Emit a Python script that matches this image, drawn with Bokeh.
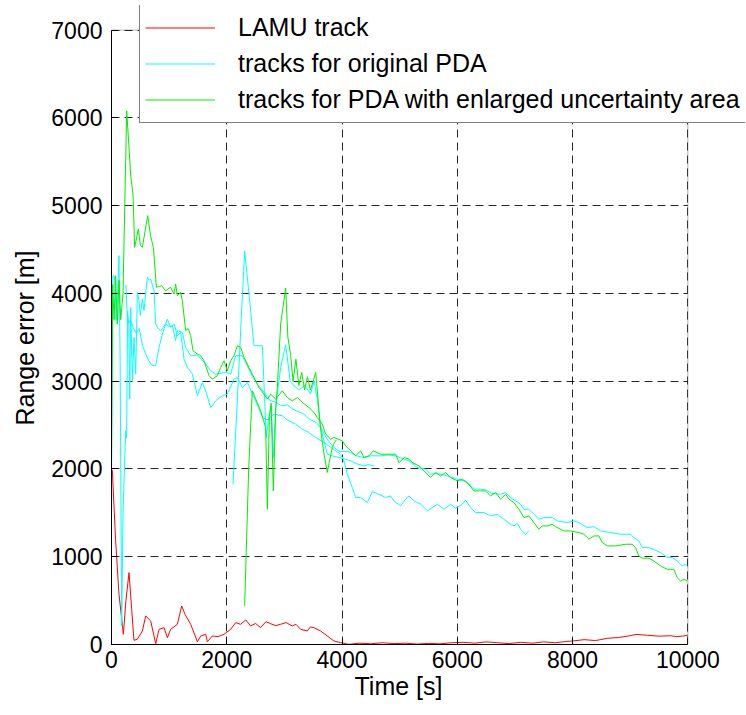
from bokeh.plotting import figure
from bokeh.models import Legend, LegendItem, FixedTicker, Range1d, BoxAnnotation, Title
from bokeh.embed import file_html
from bokeh.resources import INLINE

# ---------------- data (time [s], range error [m]) ----------------
lamu_track = [(0, 2000), (15, 1978), (70, 1200), (130, 572), (206, 116), (250, 500), (304, 819),
              (350, 400), (390, 48), (449, 60), (536, 154), (593, 325), (680, 268), (767, 9),
              (825, 173), (911, 192), (970, 78), (1026, 173), (1143, 230), (1218, 439), (1276, 344),
              (1374, 230), (1490, 32), (1548, 97), (1635, 116), (1663, 32), (1750, 97), (1850, 90),
              (1951, 116), (2067, 173), (2154, 249), (2240, 230), (2330, 280), (2414, 211),
              (2500, 240), (2587, 192), (2680, 260), (2760, 237), (2850, 215), (2934, 230),
              (3030, 250), (3136, 211), (3200, 230), (3281, 173), (3396, 154), (3450, 200),
              (3512, 192), (3627, 154), (3744, 97), (3860, 40), (3975, 21), (4120, 2), (4300, 15),
              (4500, 8), (4700, 20), (4900, 10), (5100, 15), (5300, 5), (5500, 12), (5700, 8),
              (5900, 20), (6100, 25), (6300, 15), (6500, 30), (6700, 20), (6900, 10), (7100, 25),
              (7300, 15), (7500, 30), (7700, 20), (7900, 35), (8000, 40), (8200, 55), (8400, 45),
              (8600, 70), (8800, 80), (9000, 100), (9100, 115), (9300, 105), (9500, 95),
              (9700, 100), (9800, 90), (9900, 95), (10000, 105)]

pda_track_1 = [(0, 2000), (25, 4200), (43, 4202), (60, 4150), (80, 3700), (100, 3900), (130, 4430),
               (150, 3200), (177, 211), (200, 1500), (246, 2434), (262, 2350), (280, 3800),
               (300, 3650), (316, 2796), (333, 3841), (362, 3005), (391, 3499), (420, 3081),
               (449, 4011), (477, 3917), (500, 3750), (536, 3936), (564, 3803), (622, 4182),
               (651, 4150), (680, 4163), (738, 4030), (767, 3651), (796, 3612), (853, 3575),
               (940, 3651), (1000, 3620), (1056, 3632), (1113, 3461), (1143, 3575), (1229, 3555),
               (1287, 3384), (1374, 3290), (1403, 3290), (1490, 3300), (1560, 3250), (1634, 3195),
               (1720, 3120), (1808, 3081), (1900, 3090), (1981, 3100), (2068, 3081), (2154, 3290),
               (2270, 3290), (2357, 3176), (2450, 3050), (2550, 2950), (2650, 2870), (2750, 2780),
               (2850, 2760), (2950, 2720), (3050, 2730), (3150, 2680), (3250, 2650), (3350, 2620),
               (3450, 2560), (3550, 2530), (3650, 2450), (3750, 2330), (3850, 2250), (3950, 2200),
               (4092, 2200), (4149, 2187), (4250, 2150), (4380, 2130), (4500, 2150), (4669, 2149),
               (4800, 2160), (4930, 2149), (5040, 2120), (5161, 2092), (5306, 2016), (5450, 1997),
               (5537, 1940), (5650, 1950), (5770, 1930), (5884, 1910), (6000, 1883), (6115, 1864),
               (6200, 1830), (6288, 1769), (6400, 1770), (6500, 1760), (6600, 1720), (6751, 1712),
               (6838, 1731), (6924, 1674), (7011, 1636), (7098, 1598), (7155, 1541), (7242, 1541),
               (7329, 1484), (7416, 1427), (7502, 1446), (7647, 1446), (7734, 1408), (7907, 1389),
               (8023, 1408), (8110, 1389), (8255, 1332), (8370, 1342), (8486, 1294), (8659, 1275),
               (8833, 1256), (9006, 1256), (9064, 1218), (9150, 1180), (9208, 1104), (9324, 1104),
               (9420, 1080), (9526, 1047), (9642, 990), (9728, 990), (9815, 952), (9902, 895),
               (9960, 914), (10000, 890)]

pda_track_2 = [(250, 4100), (280, 3650), (330, 3700), (380, 3600), (430, 3550), (480, 3600),
               (540, 3400), (600, 3300), (650, 3230), (700, 3180), (767, 3176), (825, 3384),
               (882, 3537), (969, 3708), (1026, 3612), (1090, 3650), (1143, 3518), (1200, 3555),
               (1260, 3250), (1316, 3157), (1403, 3081), (1490, 2834), (1577, 2985), (1634, 2890),
               (1721, 2700), (1808, 2776), (1923, 2834), (2010, 2852), (2125, 3024), (2183, 3043),
               (2270, 2928), (2357, 2985), (2450, 2850), (2550, 2700), (2617, 2586), (2700, 2560),
               (2819, 2625), (2964, 2605), (3050, 2560), (3195, 2510), (3311, 2453), (3426, 2415),
               (3542, 2358), (3686, 2301), (3800, 2250), (3889, 2206), (3950, 2180), (4020, 2120),
               (4092, 1940), (4178, 1788), (4236, 1674), (4323, 1674), (4438, 1617), (4525, 1742),
               (4640, 1712), (4756, 1674), (4843, 1693), (4900, 1636), (5016, 1579), (5103, 1655),
               (5161, 1693), (5248, 1636), (5364, 1598), (5480, 1522), (5566, 1560), (5653, 1598),
               (5769, 1541), (5884, 1598), (5971, 1553), (6086, 1598), (6144, 1644), (6231, 1560),
               (6317, 1503), (6462, 1503), (6577, 1465), (6693, 1484), (6809, 1427), (6924, 1370),
               (6982, 1351), (7040, 1380), (7098, 1313), (7185, 1256), (7242, 1294)]

pda_track_3 = [(2108, 1827), (2183, 2776), (2250, 3700), (2311, 4479), (2400, 3900), (2472, 3404),
               (2617, 3404), (2686, 2358), (2730, 2600), (2773, 2720), (2808, 2130), (2850, 2700),
               (2935, 3157), (3022, 3415), (3100, 3000), (3166, 2948), (3250, 2900), (3350, 2950),
               (3455, 2853), (3513, 3004), (3570, 2800), (3629, 2472), (3745, 2168), (3830, 2150),
               (3950, 2130), (4060, 2110), (4149, 2092), (4250, 2060), (4380, 2035), (4450, 2050),
               (4553, 2035)]

enlarged_track_1 = [(0, 2000), (20, 4100), (45, 3700), (70, 4200), (100, 3650), (130, 4150),
                    (160, 3700), (200, 4000), (230, 5000), (264, 6080), (300, 5700), (333, 5340),
                    (373, 5130), (402, 4525), (440, 4650), (466, 4734), (500, 4550), (536, 4525),
                    (580, 4700), (628, 4886), (680, 4650), (727, 4525), (779, 4070), (830, 4080),
                    (871, 4087), (940, 4030), (1000, 4060), (1026, 4068), (1084, 3993), (1113, 4106),
                    (1142, 3974), (1200, 4011), (1229, 3917), (1287, 3575), (1330, 3600),
                    (1374, 3518), (1414, 3347), (1489, 3309), (1547, 3290), (1605, 3233),
                    (1692, 3062), (1750, 3024), (1836, 3062), (1894, 3157), (1952, 3233),
                    (2010, 3119), (2068, 3233), (2125, 3290), (2184, 3404), (2242, 3385),
                    (2299, 3271), (2385, 3157), (2472, 3042), (2559, 2928), (2645, 2852),
                    (2704, 2796), (2761, 2852), (2848, 2796), (2963, 2890), (3051, 2814),
                    (3137, 2776), (3224, 2814), (3310, 2757), (3426, 2700), (3513, 2643),
                    (3571, 2586), (3658, 2510), (3715, 2397), (3802, 2340), (3860, 2359),
                    (4005, 2320), (4063, 2263), (4149, 2206), (4236, 2149), (4323, 2206),
                    (4380, 2130), (4467, 2149), (4543, 2206), (4669, 2168), (4814, 2168),
                    (4930, 2168), (4988, 2073), (5086, 2130), (5161, 2111), (5219, 2073),
                    (5334, 2035), (5421, 1978), (5537, 1902), (5623, 1959), (5710, 1921),
                    (5797, 1959), (5884, 1902), (6000, 1864), (6086, 1883), (6172, 1845),
                    (6288, 1750), (6404, 1750), (6490, 1750), (6577, 1693), (6664, 1731),
                    (6751, 1656), (6838, 1712), (6896, 1656), (6982, 1617), (7069, 1541),
                    (7155, 1446), (7242, 1465), (7329, 1389), (7416, 1313), (7474, 1351),
                    (7560, 1351), (7647, 1370), (7705, 1342), (7849, 1294), (7965, 1294),
                    (8110, 1275), (8197, 1256), (8283, 1200), (8370, 1237), (8457, 1237),
                    (8515, 1161), (8602, 1123), (8746, 1123), (8920, 1142), (9035, 1142),
                    (9093, 1104), (9150, 1009), (9208, 983), (9324, 983), (9410, 952), (9526, 895),
                    (9642, 857), (9757, 857), (9815, 762), (9873, 724), (9931, 743), (9989, 724)]

enlarged_track_2 = [(2310, 440), (2380, 2000), (2443, 2890), (2500, 2800), (2588, 2662),
                    (2675, 2472), (2704, 1541), (2740, 2600), (2770, 2750), (2808, 1750),
                    (2850, 2700), (2877, 2928), (2935, 3651), (3022, 4060), (3060, 3500),
                    (3108, 3300), (3150, 3000), (3200, 3250), (3250, 2950), (3300, 3100),
                    (3350, 2900), (3400, 3050), (3450, 2900), (3500, 3000), (3542, 3099),
                    (3570, 2900), (3620, 2500), (3680, 2200), (3744, 1960), (3800, 2150),
                    (3831, 2244), (3870, 2300), (3900, 2330)]

x_ticks = [0, 2000, 4000, 6000, 8000, 10000]
y_ticks = [0, 1000, 2000, 3000, 4000, 5000, 6000, 7000]
x_limits = (0, 10000)
y_limits = (0, 7000)
x_label = "Time [s]"
y_label = "Range error [m]"
legend_labels = ["LAMU track", "tracks for original PDA",
                 "tracks for PDA with enlarged uncertainty area"]

RED = "#ff0000"
CYAN = "#00ffff"
GREEN = "#00ee00"
FONT = "Liberation Sans"

# The frame is extended to the right and top so that the legend (which in the
# reference sticks out of the axes box) is not clipped; the extra area is masked.
p = figure(width=746, height=715, x_range=Range1d(0, 11000), y_range=Range1d(0, 7280),
           output_backend="svg", toolbar_location=None,
           min_border_left=111, min_border_right=1, min_border_top=5, min_border_bottom=71)

p.background_fill_color = "white"
p.border_fill_color = "white"
p.outline_line_color = None

def xy(track):
    return [a for a, b in track], [b for a, b in track]

r_red = p.line(*xy(lamu_track), line_color=RED, line_width=1)
r_c1 = p.line(*xy(pda_track_1), line_color=CYAN, line_width=1)
p.line(*xy(pda_track_2), line_color=CYAN, line_width=1)
p.line(*xy(pda_track_3), line_color=CYAN, line_width=1)
r_g1 = p.line(*xy(enlarged_track_1), line_color=GREEN, line_width=1)
p.line(*xy(enlarged_track_2), line_color=GREEN, line_width=1)

p.xaxis.ticker = FixedTicker(ticks=x_ticks)
p.yaxis.ticker = FixedTicker(ticks=y_ticks)
p.xaxis.bounds = x_limits
p.yaxis.bounds = y_limits
for ax in (p.xaxis, p.yaxis):
    ax.major_label_text_font = FONT
    ax.major_label_text_font_size = "23px"
    ax.major_label_text_color = "black"
    ax.major_tick_in = 6
    ax.major_tick_out = 0
    ax.minor_tick_in = 0
    ax.minor_tick_out = 0
    ax.axis_line_color = "black"
    ax.major_tick_line_color = "black"
p.xaxis.major_label_standoff = 6
p.yaxis.major_label_standoff = 9

# axis titles placed relative to the true axes box (0..10000 x 0..7000)
p.add_layout(Title(text=x_label, align="left", offset=243, vertical_align="middle",
                   standoff=0, text_font=FONT, text_font_size="25px",
                   text_font_style="normal", text_color="black"), "below")
p.add_layout(Title(text=y_label, align="left", offset=219, vertical_align="middle",
                   standoff=18, text_font=FONT, text_font_size="25px",
                   text_font_style="normal", text_color="black"), "left")

for g in (p.xgrid, p.ygrid):
    g.grid_line_color = "black"
    g.grid_line_alpha = 0.85
    g.grid_line_dash = "8 5"
    g.grid_line_width = 1

# mask the area outside the axes box, then draw the axes box
p.add_layout(BoxAnnotation(left=x_limits[1], fill_color="white", fill_alpha=1.0,
                           line_color=None))
p.add_layout(BoxAnnotation(bottom=y_limits[1], fill_color="white", fill_alpha=1.0,
                           line_color=None))
p.add_layout(BoxAnnotation(left=x_limits[0], right=x_limits[1], bottom=y_limits[0],
                           top=y_limits[1], fill_alpha=0.0, line_color="black",
                           line_width=1))

legend = Legend(items=[LegendItem(label=legend_labels[0], renderers=[r_red]),
                       LegendItem(label=legend_labels[1], renderers=[r_c1]),
                       LegendItem(label=legend_labels[2], renderers=[r_g1])],
                location=(28, 521))
legend.label_text_font = FONT
legend.label_text_font_size = "25px"
legend.label_text_color = "black"
legend.border_line_color = "black"
legend.border_line_width = 1
legend.background_fill_color = "white"
legend.background_fill_alpha = 1.0
legend.padding = 5
legend.margin = 0
legend.spacing = 1
legend.label_height = 35
legend.glyph_height = 35
legend.glyph_width = 70
legend.label_standoff = 23
p.add_layout(legend, "center")

open("out.html", "w").write(file_html(p, INLINE))
